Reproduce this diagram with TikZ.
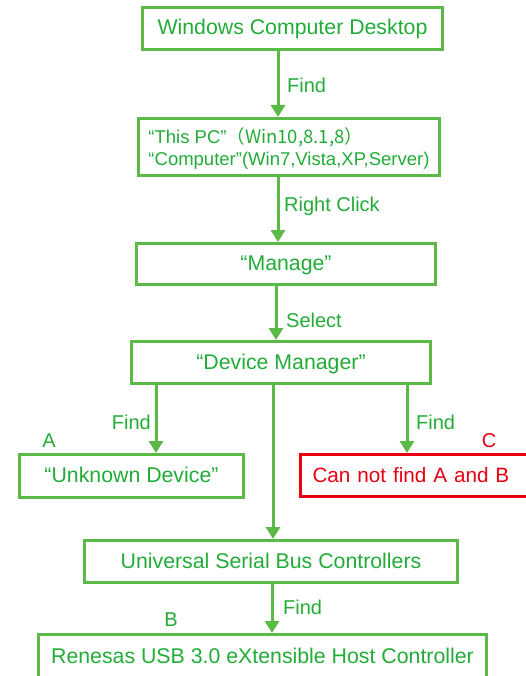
\documentclass[tikz,border=0pt]{standalone}
\usepackage{fontspec}
\setmainfont{Liberation Sans}
\newfontfamily\cjk{Noto Sans CJK SC}
\usetikzlibrary{arrows.meta}
\definecolor{lgreen}{HTML}{5BBA47}
\definecolor{tgreen}{HTML}{22AC38}
\definecolor{tred}{HTML}{E60012}
\begin{document}
\begin{tikzpicture}[x=1pt,y=-1pt,
  boxbase/.style={draw=lgreen, line width=3pt, text=tgreen, inner sep=0pt},
  box/.style={boxbase, font=\fontsize{21.3}{25}\selectfont, text height=17pt, text depth=4pt},
  redbox/.style={box, draw=tred, text=tred},
  arr/.style={draw=lgreen, line width=3pt, -{Triangle[width=14pt,length=12pt]}},
  plainline/.style={draw=lgreen, line width=3pt},
  lbl/.style={text=tgreen, font=\fontsize{20}{24}\selectfont, inner sep=0pt},
]
\useasboundingbox (0,0) rectangle (526,676);
\clip (0,0) rectangle (526,676);
\fill[white] (0,0) rectangle (526,676);

\node[box, minimum width=300pt, minimum height=42pt] (b1) at (292.5,28.5) {Windows Computer Desktop};
\node[boxbase, align=left, minimum width=301pt, minimum height=57pt, font=\fontsize{18.5}{22}\selectfont, text depth=0pt] (b2) at (289,147)
  {“This PC”\cjk{（}Win10,8.1,8\cjk{）}\\“Computer”(Win7,Vista,XP,Server)};
\node[box, minimum width=299pt, minimum height=41pt] (b3) at (286,264) {“Manage”};
\node[box, minimum width=299pt, minimum height=42pt] (b4) at (281,362.5) {“Device Manager”};
\node[box, minimum width=224pt, minimum height=43pt] (bA) at (131.5,476) {“Unknown Device”};
\node[redbox, anchor=west, minimum height=42pt, inner xsep=12pt, text width=230pt, align=left, font=\fontsize{20.7}{25}\selectfont] (bC) at (299,475.5) {Can not find A and B};
\node[box, minimum width=373pt, minimum height=42pt] (bU) at (271,561.5) {Universal Serial Bus Controllers};
\node[box, minimum width=448pt, minimum height=45pt] (bR) at (262.5,657) {Renesas USB 3.0 eXtensible Host Controller};

\coordinate (c1) at (278,0);
\coordinate (c3) at (276,0);
\coordinate (c4) at (156,0);
\coordinate (c5) at (407,0);
\coordinate (c6) at (273,0);
\coordinate (c7) at (272,0);

\draw[arr] (b1.south -| c1) -- (b2.north -| c1);
\draw[arr] (b2.south -| c1) -- (b3.north -| c1);
\draw[arr] (b3.south -| c3) -- (b4.north -| c3);
\draw[arr] (b4.south -| c4) -- (bA.north -| c4);
\draw[arr] (b4.south -| c5) -- (bC.north -| c5);
\draw[arr] (b4.south -| c6) -- (bU.north -| c6);
\draw[arr] (bU.south -| c7) -- (bR.north -| c7);

\node[lbl, anchor=west] (l1) at (287,85) {Find};
\node[lbl, anchor=west] (l2) at (284,206) {Right Click};
\node[lbl, anchor=west] (l3) at (286,320) {Select};
\node[lbl, anchor=east] (l4) at (151,422) {Find};
\node[lbl, anchor=west] (l5) at (416,422) {Find};
\node[lbl, anchor=west] (l6) at (283,607) {Find};
\node[lbl] (la) at (49,441) {A};
\node[lbl, text=tred] (lc) at (489,441) {C};
\node[lbl] (lb) at (171,620) {B};
\end{tikzpicture}
\end{document}
